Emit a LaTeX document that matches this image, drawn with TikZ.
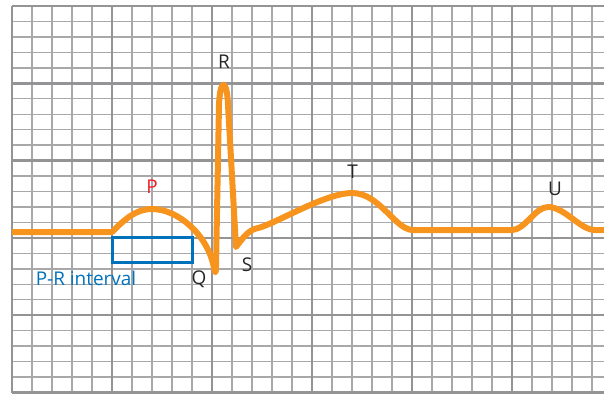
\documentclass[tikz,border=0pt]{standalone}
\usepackage{fontspec}
\setmainfont{Open Sans}
\definecolor{ecgorange}{RGB}{247, 148, 29}
\definecolor{ecgblue}{RGB}{0, 114, 188}
\definecolor{ecgred}{RGB}{237, 28, 36}
\definecolor{ecgmajor}{RGB}{148, 148, 151}
\definecolor{ecgminor}{RGB}{168, 168, 171}

\begin{document}
\begin{tikzpicture}[
    x=1bp, y=-1bp,
    minorline/.style={draw=ecgminor, line width=1.4bp},
    majorline/.style={draw=ecgmajor, line width=2.4bp},
    wave/.style={draw=ecgorange, line width=6bp, line join=round},
    wavelbl/.style={font=\fontsize{19}{22}\selectfont, anchor=base, inner sep=0pt, text=black!85}
]
\useasboundingbox (0,0) rectangle (604,393);

% === Papel milimetrado (cuadros de 20 x 15.46) ===
\foreach \i in {0,...,29}
    \draw[minorline] ({12+20*\i},6) -- ({12+20*\i},392.5);
\foreach \j in {0,...,25}
    \draw[minorline] (12,{6+15.46*\j}) -- (604,{6+15.46*\j});
\foreach \i in {0,...,5}
    \draw[majorline] ({12+100*\i},6) -- ({12+100*\i},392.5);
\foreach \j in {0,...,5}
    \draw[majorline] (12,{6+77.3*\j}) -- (604,{6+77.3*\j});

% === Intervalo P-R ===
\draw[draw=ecgblue, line width=3bp] (112,237.5) rectangle (192.5,262.5);

% === Trazado del ECG ===
\draw[wave] (12,232) -- (112,232)
    .. controls (125,219) and (136,209) .. (152,209)      % onda P
    .. controls (178,209) and (208,235) .. (214,268)      % Q
    .. controls (215,274) and (216,274) .. (216,266)
    -- (219,105)
    .. controls (220,78) and (227,78) .. (228,105)        % R
    -- (236,247)                                          % S
    .. controls (243,238) and (248,230) .. (258,228)
    .. controls (275,224) and (325,193) .. (352,193)      % onda T
    .. controls (380,193) and (395,230) .. (413,230)
    -- (512,230)
    .. controls (525,230) and (535,207) .. (548,207)      % onda U
    .. controls (565,207) and (580,230) .. (595,230)
    -- (604,230);

% === Etiquetas ===
\node[wavelbl] (lblR) at (224,68.3) {R};
\node[wavelbl, text=ecgred] (lblP) at (152,193) {P};
\node[wavelbl] (lblQ) at (199,284) {Q};
\node[wavelbl] (lblS) at (247,271.7) {S};
\node[wavelbl] (lblT) at (352.5,178) {T};
\node[wavelbl] (lblU) at (555,195.7) {U};
\node[wavelbl, text=ecgblue] (lblPR) at (86,285) {P-R interval};

\end{tikzpicture}
\end{document}
